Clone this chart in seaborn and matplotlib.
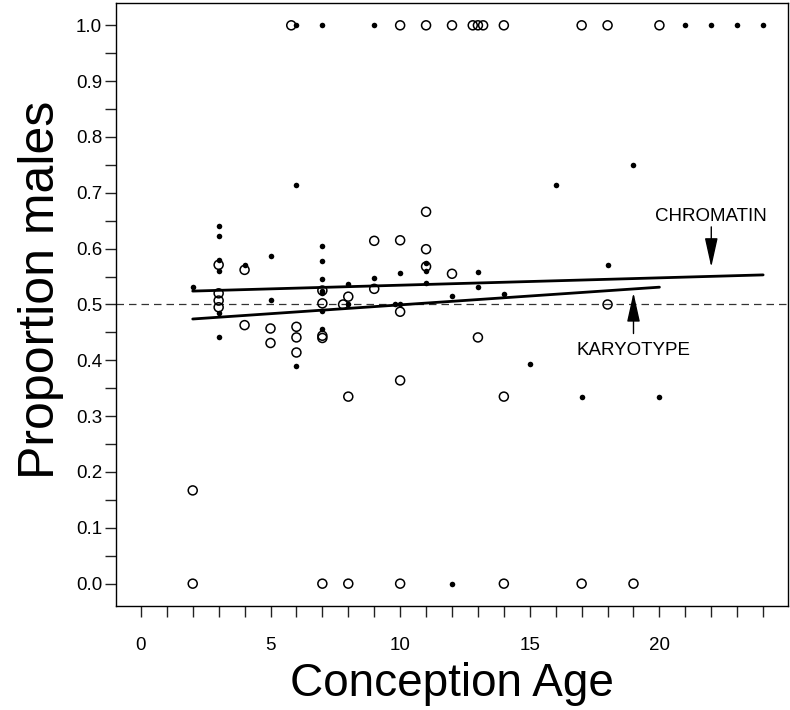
import matplotlib
matplotlib.use('Agg')
import matplotlib.pyplot as plt
from matplotlib.ticker import MultipleLocator, FormatStrFormatter
import seaborn as sns

# Chromatin sexing (filled dots)
chrom_age = [2, 3, 3, 3, 3, 3, 3, 4, 5, 5, 6, 6, 6,
             7, 7, 7, 7, 7, 7, 7, 7, 8, 8, 9, 9, 9.8, 10, 10,
             11, 11, 11, 12, 12, 13, 13, 14, 15, 16, 17, 18, 19, 20,
             21, 22, 23, 24]
chrom_prop = [0.531, 0.640, 0.623, 0.580, 0.560, 0.484, 0.441, 0.571, 0.587, 0.508, 0.714, 0.389, 1.0,
              0.604, 0.577, 0.545, 0.525, 0.520, 0.488, 0.456, 1.0, 0.536, 0.500, 0.547, 1.0, 0.500, 0.556, 0.500,
              0.575, 0.560, 0.539, 0.515, 0.0, 0.559, 0.532, 0.518, 0.393, 0.714, 0.334, 0.571, 0.750, 0.334,
              1.0, 1.0, 1.0, 1.0]

# Karyotype sexing (open circles)
kary_age = [2, 2, 3, 3, 3, 3, 4, 4, 5, 5, 5.8, 6, 6, 6,
            7, 7, 7, 7, 7, 7.8, 8, 8, 8, 9, 9, 10, 10, 10, 10, 10,
            11, 11, 11, 11, 12, 12, 12.8, 13, 13.2, 13, 14, 14, 14,
            17, 17, 18, 18, 19, 20]
kary_prop = [0.167, 0.0, 0.571, 0.520, 0.507, 0.495, 0.562, 0.463, 0.457, 0.431, 1.0, 0.460, 0.441, 0.414,
             0.525, 0.502, 0.444, 0.440, 0.0, 0.500, 0.514, 0.335, 0.0, 0.614, 0.528, 0.615, 0.487, 0.364, 1.0, 0.0,
             0.666, 0.599, 0.568, 1.0, 0.555, 1.0, 1.0, 1.0, 1.0, 0.441, 0.335, 1.0, 0.0,
             1.0, 0.0, 0.500, 1.0, 0.0, 1.0]

# Fitted lines (end points)
chrom_fit_age = [2, 24]
chrom_fit_prop = [0.524, 0.553]
kary_fit_age = [2, 20]
kary_fit_prop = [0.474, 0.531]

sns.set_style('ticks')
plt.rcParams['font.family'] = ['Liberation Sans', 'DejaVu Sans']
plt.rcParams['text.color'] = 'black'
plt.rcParams['axes.labelcolor'] = 'black'
plt.rcParams['xtick.color'] = 'black'
plt.rcParams['ytick.color'] = 'black'

fig = plt.figure(figsize=(7.9, 7.1), dpi=100)
ax = fig.add_axes([0.1468, 0.1465, 0.8507, 0.8493])

ax.axhline(0.5, color='#333333', lw=0.9, dashes=(6, 4), zorder=1)

sns.scatterplot(x=chrom_age, y=chrom_prop, color='black', s=16, linewidth=0, ax=ax, zorder=3)
sns.scatterplot(x=kary_age, y=kary_prop, facecolor='none', edgecolor='black', s=42, linewidth=1.1,
                ax=ax, zorder=3)

sns.lineplot(x=chrom_fit_age, y=chrom_fit_prop, color='black', lw=2.0, ax=ax, zorder=2)
sns.lineplot(x=kary_fit_age, y=kary_fit_prop, color='black', lw=2.0, ax=ax, zorder=2)

# Labels with arrows
arrow = dict(arrowstyle='-|>,head_length=0.9,head_width=0.2', color='black', lw=1.0,
             shrinkA=0, shrinkB=0, mutation_scale=20)
ax.annotate('', xy=(22, 0.567), xytext=(22, 0.639), arrowprops=arrow)
ax.text(22, 0.658, 'CHROMATIN', ha='center', va='center', fontsize=13.5)
ax.annotate('', xy=(19, 0.521), xytext=(19, 0.448), arrowprops=arrow)
ax.text(19, 0.418, 'KARYOTYPE', ha='center', va='center', fontsize=13.5)

ax.set_xlim(-0.96, 24.96)
ax.set_ylim(-0.04, 1.04)
ax.xaxis.set_major_locator(MultipleLocator(5))
ax.xaxis.set_minor_locator(MultipleLocator(1))
ax.yaxis.set_major_locator(MultipleLocator(0.1))
ax.yaxis.set_minor_locator(MultipleLocator(0.05))
ax.yaxis.set_major_formatter(FormatStrFormatter('%.1f'))
ax.set_xticks([0, 5, 10, 15, 20])
ax.tick_params(which='both', direction='out', length=8, width=1.0, color='#222222')
ax.tick_params(axis='x', which='major', labelsize=13.5, pad=14)
ax.tick_params(axis='y', which='major', labelsize=13.5, pad=2)

for sp in ax.spines.values():
    sp.set_visible(True)
    sp.set_color('black')
    sp.set_linewidth(1.0)

ax.set_xlabel('Conception Age', fontsize=33, labelpad=6)
ax.set_ylabel('Proportion males', fontsize=36)
ax.yaxis.set_label_coords(-0.078, 0.525)

plt.savefig('out.png', dpi=100)
plt.close()
